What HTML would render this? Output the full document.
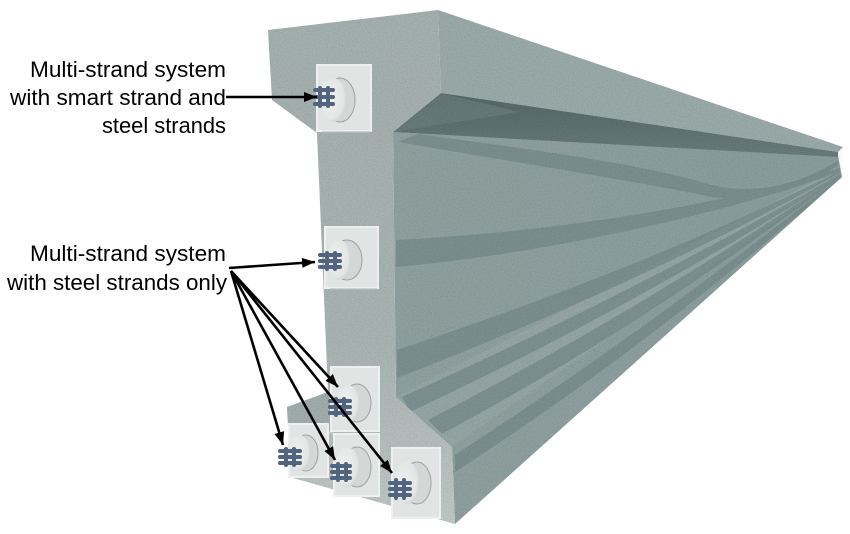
<!DOCTYPE html>
<html><head><meta charset="utf-8"><style>
html,body{margin:0;padding:0;background:#fff;width:850px;height:534px;overflow:hidden}
svg{display:block}
</style></head><body>
<svg width="850" height="534" viewBox="0 0 850 534" xmlns="http://www.w3.org/2000/svg">
<defs>
  <linearGradient id="front" x1="0" y1="0" x2="0" y2="1">
    <stop offset="0" stop-color="#a4b0ae"/>
    <stop offset="0.65" stop-color="#a9b4b2"/>
    <stop offset="0.85" stop-color="#b6bfbd"/>
    <stop offset="1" stop-color="#c0c8c6"/>
  </linearGradient>
  <linearGradient id="side" x1="0" y1="0" x2="1" y2="0">
    <stop offset="0" stop-color="#8fa09f"/>
    <stop offset="1" stop-color="#8a9c9c"/>
  </linearGradient>
  <linearGradient id="under" x1="0" y1="0" x2="0" y2="1">
    <stop offset="0" stop-color="#546565"/>
    <stop offset="1" stop-color="#6a7b7b"/>
  </linearGradient>
  <radialGradient id="cyl" cx="0.4" cy="0.45" r="0.6">
    <stop offset="0" stop-color="#eef0ef"/>
    <stop offset="0.8" stop-color="#e2e6e4"/>
    <stop offset="1" stop-color="#cfd5d3"/>
  </radialGradient>
  <filter id="noise" x="0" y="0" width="100%" height="100%">
    <feTurbulence type="fractalNoise" baseFrequency="0.8" numOctaves="2" seed="4"/>
    <feColorMatrix type="matrix" values="0 0 0 0 0  0 0 0 0 0  0 0 0 0 0  0.22 0 0 0 -0.09"/>
  </filter>
  <clipPath id="beam">
    <path d="M268,30 L438,10 L843,147 L842,177 L455,524 L293,478 L288,425 L287,407 L328,392 L317,133 L272,100 Z"/>
  </clipPath>
  <marker id="ah" markerUnits="userSpaceOnUse" markerWidth="14" markerHeight="10" refX="13" refY="5" orient="auto">
    <path d="M0,0 L13,5 L0,10 Z" fill="#000"/>
  </marker>
</defs>

<!-- Side (long) face -->
<path d="M393,132 L838,155 L842,177 L455,524 L452,447 L396,397 Z" fill="url(#side)"/>
<!-- chamfer face -->
<path d="M396,397 L452,447 L841,175 L840,168 Z" fill="#94a5a4"/>
<!-- top flange side face -->
<path d="M438,10 L843,147 L838,152 L441,93 Z" fill="#9aaaa9"/>
<!-- top flange underside -->
<path d="M441,93 L838,152 L838,157 L393,132 Z" fill="url(#under)"/>
<path d="M441,93 L520,112 L393,132 Z" fill="#6f8080" opacity="0.6"/>

<!-- tendon bands -->
<g fill="#748888" opacity="0.7">
  <path d="M418,134 C520,148 640,163 712,185 C760,196 805,182 838,160 L838,165 C805,188 760,203 712,197 C640,182 520,163 398,142 Z"/>
  <path d="M396,240 C520,234 700,212 840,168 L840,172 C700,222 520,256 396,267 Z"/>
  <path d="M397,350 Q650,266 840,171 L840,173 Q650,280 397,378 Z"/>
  <path d="M402,397 Q650,285 841,173 L841,175 Q650,299 410,412 Z"/>
  <path d="M428,420 Q650,305 841,174 L841,176 Q650,322 442,434 Z"/>
  <path d="M455,455 Q650,328 841,176 L841,178 Q650,346 455,472 Z"/>
</g>

<!-- Front face -->
<path d="M268,30 L438,10 L441,93 L393,132 L396,397 L452,447 L455,524 L293,478 L288,425 L287,407 L328,392 L317,133 L272,100 Z" fill="url(#front)"/>
<!-- left bottom-flange top surface -->
<path d="M287,407 L328,392 L334,432 L288,424 Z" fill="#a0adab"/>
<path d="M288,424 L334,432 L334,435 L288,427 Z" fill="#c6cdcb"/>

<!-- noise texture -->
<g clip-path="url(#beam)">
  <rect x="260" y="0" width="590" height="534" filter="url(#noise)"/>
</g>

<!-- Anchors -->
<g id="anchors">
  <!-- plates -->
  <g fill="#e0e4e2" stroke="#eef0ef" stroke-width="2">
    <rect x="317" y="65" width="54" height="66"/>
    <rect x="325" y="227" width="53" height="61"/>
    <rect x="331" y="367" width="48" height="64"/>
    <rect x="289" y="424" width="39" height="53"/>
    <rect x="334" y="434" width="45" height="62"/>
    <rect x="392" y="448" width="48" height="70"/>
  </g>
  <g stroke="#b9c0be" stroke-width="1.2">
    <line x1="322" y1="132" x2="370" y2="132"/>
    <line x1="330" y1="289" x2="377" y2="289"/>
  </g>
  <!-- cylinder bodies -->
  <g fill="#d3d8d6" stroke="#9aa3a1" stroke-width="1">
    <ellipse cx="340" cy="100" rx="15" ry="22"/>
    <ellipse cx="347" cy="260" rx="15" ry="20"/>
    <ellipse cx="357" cy="403" rx="14" ry="19"/>
    <ellipse cx="306" cy="453" rx="12" ry="18"/>
    <ellipse cx="357" cy="467" rx="14" ry="20"/>
    <ellipse cx="417" cy="483" rx="14" ry="21"/>
  </g>
  <!-- front discs -->
  <g fill="url(#cyl)">
    <ellipse cx="333" cy="100" rx="14" ry="22"/>
    <ellipse cx="339" cy="260" rx="12" ry="20"/>
    <ellipse cx="348" cy="404" rx="12" ry="19"/>
    <ellipse cx="299" cy="453" rx="12" ry="18"/>
    <ellipse cx="347" cy="467" rx="13" ry="20"/>
    <ellipse cx="407" cy="483" rx="13" ry="21"/>
  </g>
  <!-- strands -->
  <g fill="#52647e">
    <g transform="translate(324,97)">
      <rect x="-11" y="-9" width="22" height="4" rx="2"/><rect x="-11" y="-2" width="22" height="4" rx="2"/><rect x="-11" y="5" width="22" height="4" rx="2"/>
      <rect x="-6" y="-11" width="4" height="22" rx="2"/><rect x="2" y="-11" width="4" height="22" rx="2"/>
    </g>
    <g transform="translate(330,261)">
      <rect x="-12" y="-8" width="24" height="4" rx="2"/><rect x="-12" y="-2" width="24" height="4" rx="2"/><rect x="-12" y="4" width="24" height="4" rx="2"/>
      <rect x="-5" y="-10" width="4" height="20" rx="2"/><rect x="3" y="-10" width="4" height="20" rx="2"/>
    </g>
    <g transform="translate(340,407)">
      <rect x="-12" y="-8" width="24" height="4" rx="2"/><rect x="-12" y="-2" width="24" height="4" rx="2"/><rect x="-12" y="4" width="24" height="4" rx="2"/>
      <rect x="-6" y="-10" width="4" height="20" rx="2"/><rect x="2" y="-10" width="4" height="20" rx="2"/>
    </g>
    <g transform="translate(290,457)">
      <rect x="-12" y="-8" width="24" height="4" rx="2"/><rect x="-12" y="-2" width="24" height="4" rx="2"/><rect x="-12" y="4" width="24" height="4" rx="2"/>
      <rect x="-6" y="-10" width="4" height="20" rx="2"/><rect x="2" y="-10" width="4" height="20" rx="2"/>
    </g>
    <g transform="translate(341,472)">
      <rect x="-11" y="-8" width="22" height="4" rx="2"/><rect x="-11" y="-2" width="22" height="4" rx="2"/><rect x="-11" y="4" width="22" height="4" rx="2"/>
      <rect x="-5" y="-10" width="4" height="20" rx="2"/><rect x="3" y="-10" width="4" height="20" rx="2"/>
    </g>
    <g transform="translate(400,489)">
      <rect x="-12" y="-8" width="24" height="4" rx="2"/><rect x="-12" y="-2" width="24" height="4" rx="2"/><rect x="-12" y="4" width="24" height="4" rx="2"/>
      <rect x="-6" y="-11" width="4" height="22" rx="2"/><rect x="2" y="-11" width="4" height="22" rx="2"/>
    </g>
  </g>
</g>

<!-- Arrows -->
<g stroke="#000" stroke-width="2.6" fill="none" marker-end="url(#ah)">
  <line x1="226" y1="97" x2="317" y2="97"/>
  <line x1="229" y1="268" x2="315" y2="262"/>
  <line x1="231" y1="271" x2="283" y2="445"/>
  <line x1="231" y1="271" x2="335" y2="460"/>
  <line x1="231" y1="271" x2="338" y2="387"/>
  <line x1="231" y1="271" x2="392" y2="473"/>
</g>

<!-- Labels -->
<g font-family="'Liberation Sans', Arial, sans-serif" font-size="22" fill="#000">
  <text x="30" y="77" textLength="196" lengthAdjust="spacingAndGlyphs">Multi-strand system</text>
  <text x="10" y="105" textLength="216" lengthAdjust="spacingAndGlyphs">with smart strand and</text>
  <text x="102" y="133" textLength="124" lengthAdjust="spacingAndGlyphs">steel strands</text>
  <text x="30" y="261" textLength="196" lengthAdjust="spacingAndGlyphs">Multi-strand system</text>
  <text x="7" y="290" textLength="220" lengthAdjust="spacingAndGlyphs">with steel strands only</text>
</g>
</svg>
</body></html>
